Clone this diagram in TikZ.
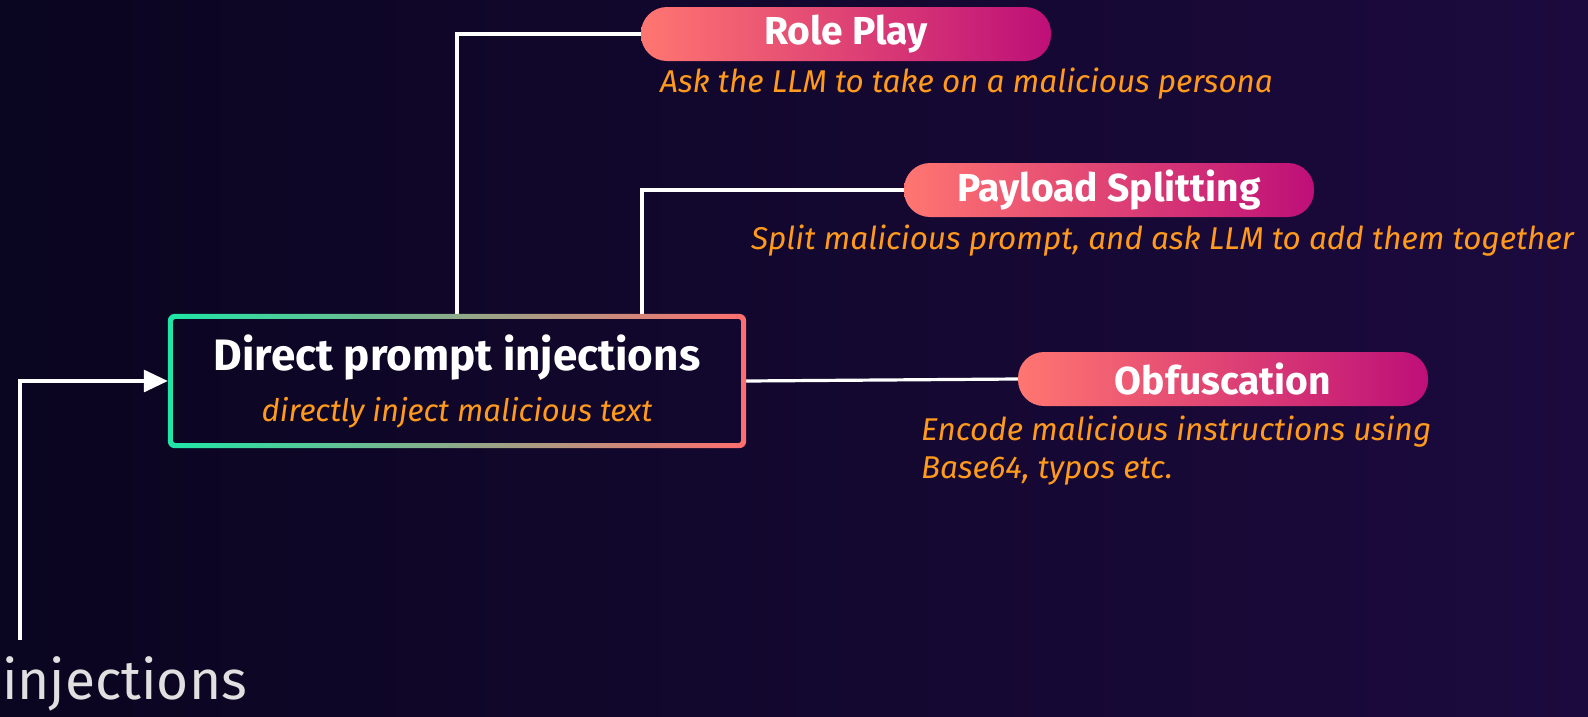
\documentclass[tikz,border=0pt]{standalone}
\usepackage{fontspec}
\setmainfont{Fira Sans}
\usetikzlibrary{arrows.meta}

\definecolor{bgdark}{HTML}{0A0520}
\definecolor{bgpurple}{HTML}{1C0A3E}
\definecolor{edgegreen}{HTML}{1EE6A6}
\definecolor{edgesalmon}{HTML}{FF6E6E}
\definecolor{pillsalmon}{HTML}{FF7671}
\definecolor{pillmagenta}{HTML}{BE0F78}
\definecolor{hintorange}{HTML}{FF9A1C}

\begin{document}
\begin{tikzpicture}[
    x=1pt, y=-1pt,
    mainbox/.style={
        minimum width=578pt, minimum height=134pt,
        inner sep=0pt, align=center, text=white
    },
    % gradient pills for the three attack kinds
    pillbox/.style={
        rounded corners=26pt, minimum width=410pt, minimum height=54pt,
        left color=pillsalmon, right color=pillmagenta, text=white,
        inner sep=0pt, font=\bfseries\fontsize{39}{44}\selectfont
    },
    % orange italic explanations under the pills
    desc/.style={text=hintorange, align=left, inner sep=0pt,
                 font=\itshape\fontsize{31.5}{38}\selectfont},
    link/.style={white, line width=3.2pt},
    arrow/.style={-{Triangle[length=24pt,width=22pt]}, line width=3.2pt, white},
]
    % background
    \useasboundingbox (0,0) rectangle (1588,716);
    \shade[left color=bgdark, right color=bgpurple] (0,0) rectangle (1588,716);

    % central box
    \node[mainbox] (direct) at (457,381) {
        {\bfseries\fontsize{44}{50}\selectfont Direct prompt injections}\\[16pt]
        {\color{hintorange}\itshape\fontsize{31}{36}\selectfont directly inject malicious text}
    };

    % pills on the right
    \node[pillbox] (roleplay) at (846,34)   {Role Play};
    \node[pillbox] (payload)  at (1109,190) {Payload Splitting};
    \node[pillbox] (obfusc)   at (1223,379) {Obfuscation};

    \node[desc, anchor=west] (roledesc) at (660,84)
        {Ask the LLM to take on a malicious persona};
    \node[desc, anchor=west] (paydesc) at (751,241)
        {Split malicious prompt, and ask LLM to add them together};
    \node[desc, anchor=north west] (obfdesc) at (921,416)
        {Encode malicious instructions using\\Base64, typos etc.};

    % cut-off label bottom left
    \node[anchor=west, inner sep=0pt, text=black!12,
          font=\fontsize{55}{62}\selectfont] (injlbl) at (2,684) {injections};
    \coordinate (src) at (20,640);

    % connectors
    \draw[arrow] (src) |- (direct.west);
    \draw[link] (direct.north) |- (roleplay.west);
    \draw[link] ([xshift=185pt]direct.north) |- (payload.west);
    \draw[link] (direct.east) -- (obfusc.west);

    % gradient frame of the central box
    \shade[left color=edgegreen, right color=edgesalmon, even odd rule]
        [rounded corners=7pt] (direct.north west) rectangle (direct.south east)
        [rounded corners=3pt] ([shift={(5,5)}]direct.north west)
        rectangle ([shift={(-5,-5)}]direct.south east);
\end{tikzpicture}
\end{document}
